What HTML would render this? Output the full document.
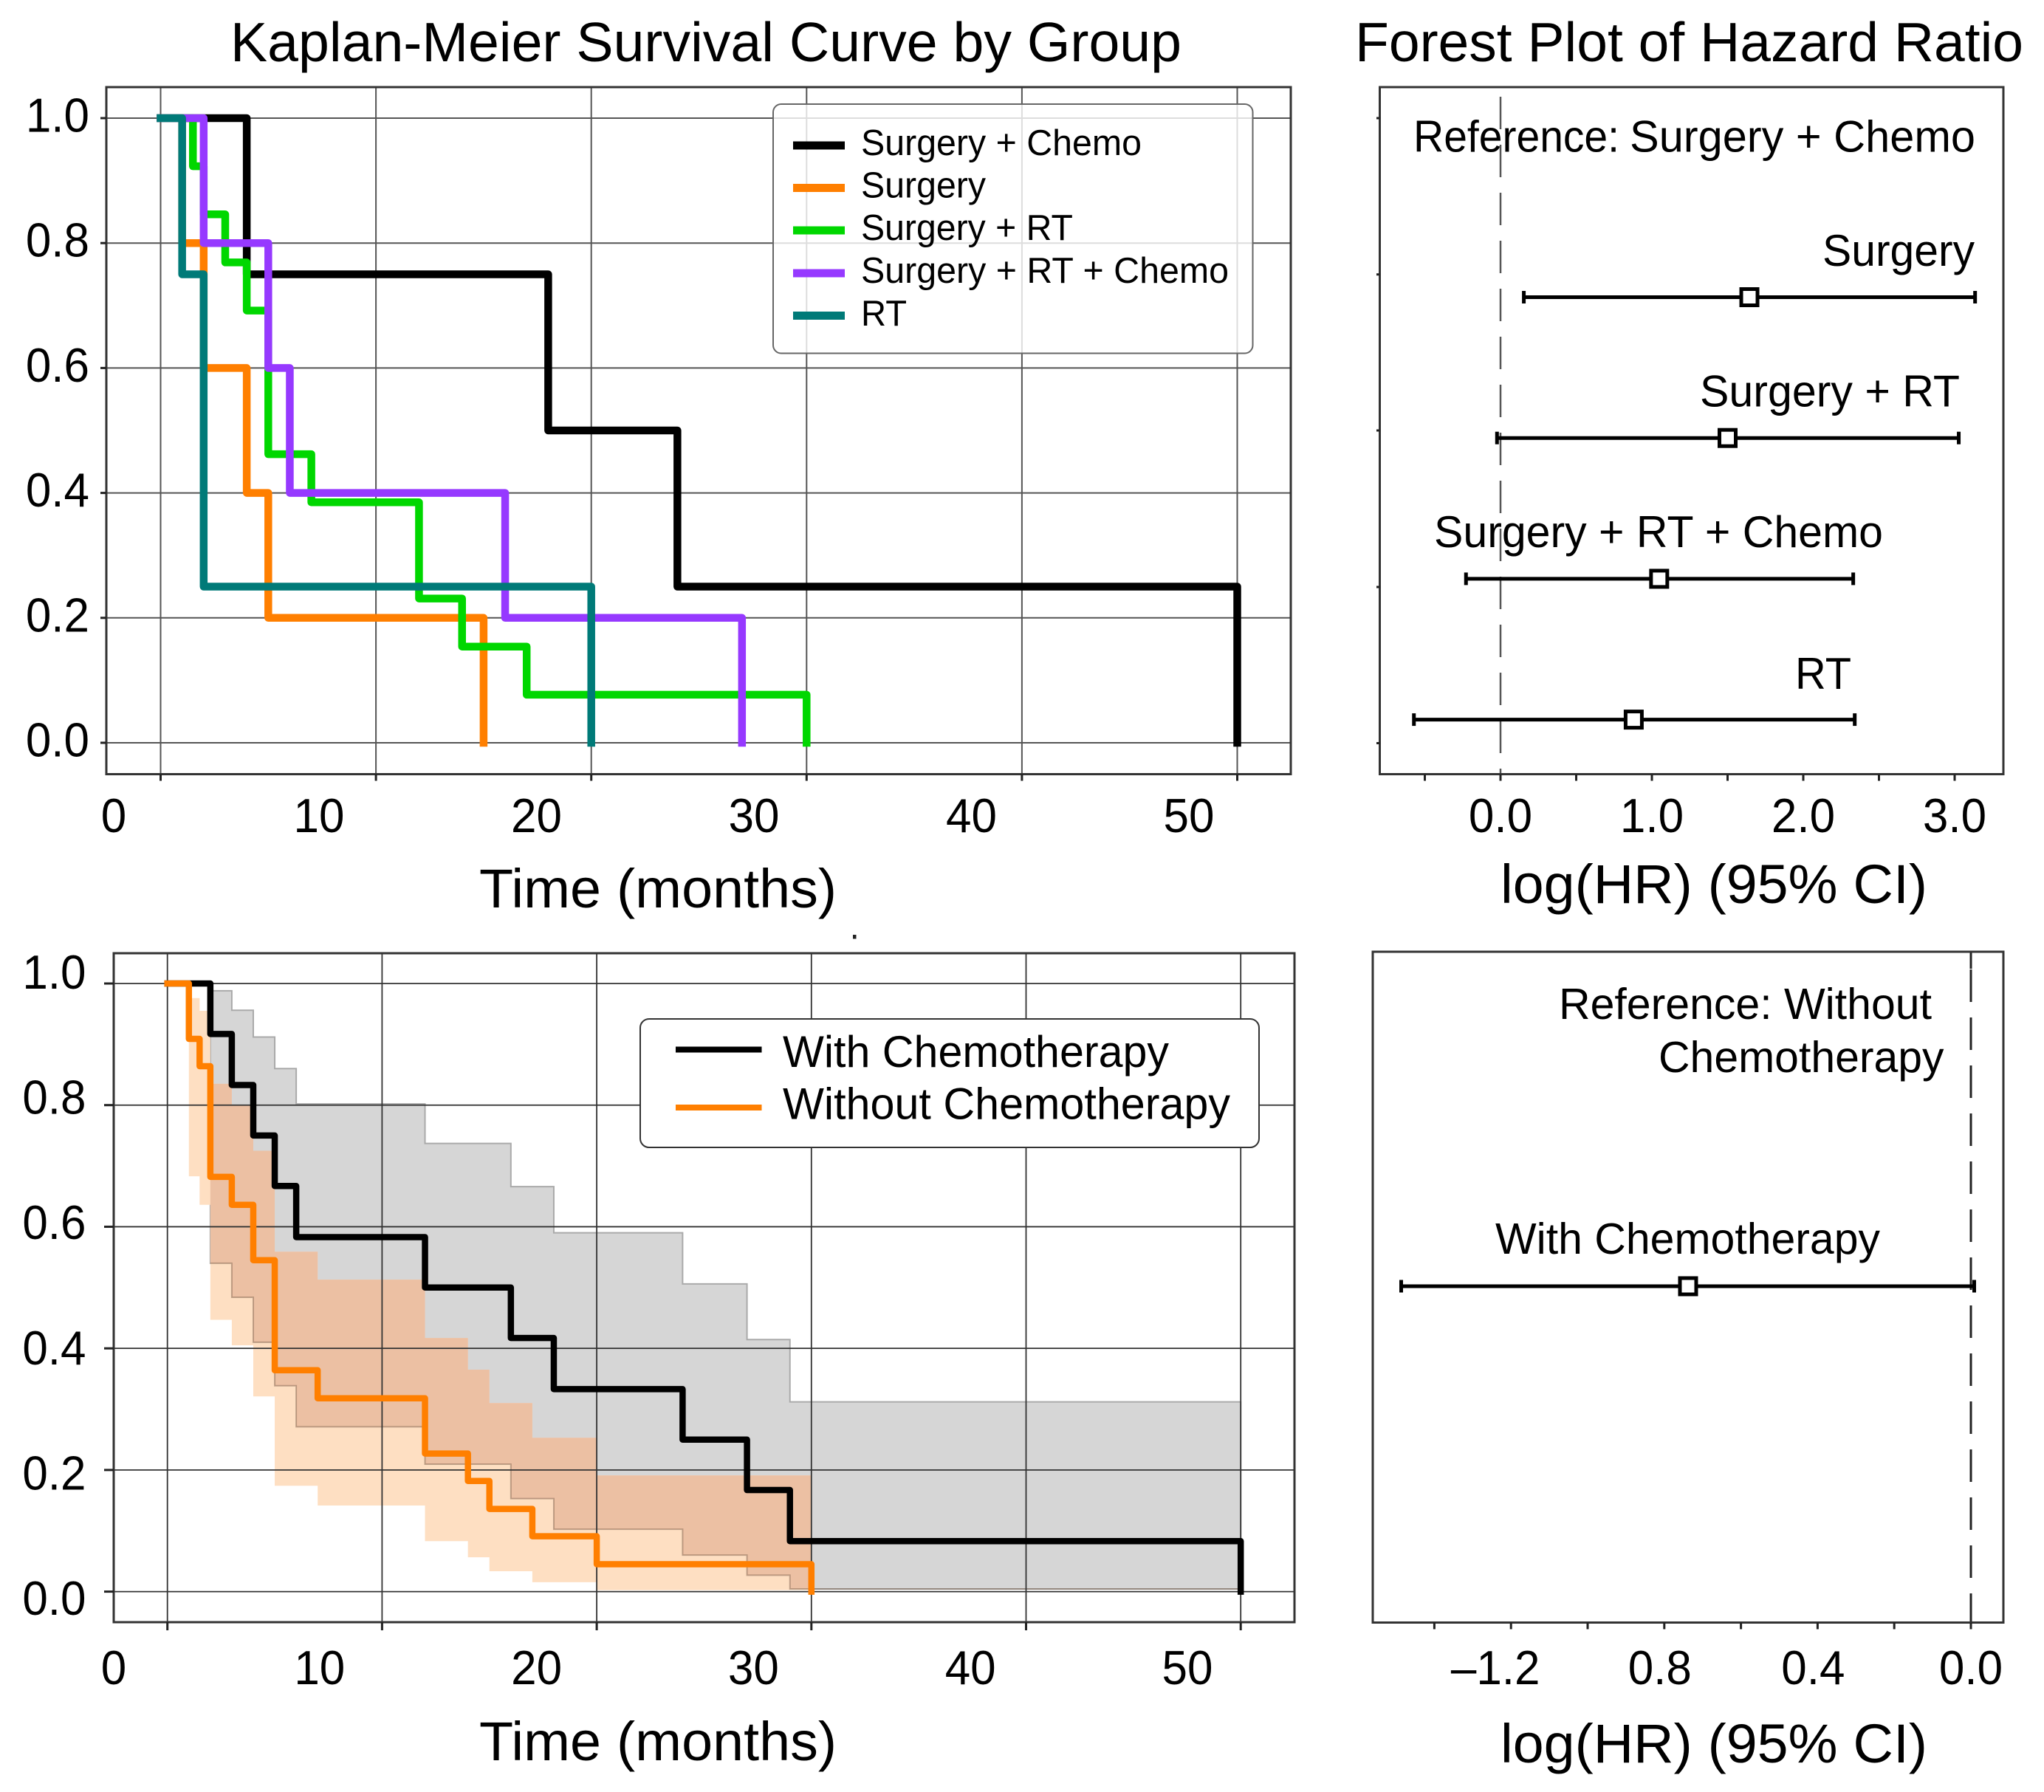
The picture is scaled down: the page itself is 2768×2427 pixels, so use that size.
<!DOCTYPE html>
<html lang="en">
<head>
<meta charset="utf-8">
<title>Kaplan-Meier Survival Curves and Forest Plots</title>
<style>
html,body{margin:0;padding:0;background:#fff}
svg{display:block}
text{font-family:"Liberation Sans",sans-serif;fill:#000}
</style>
</head>
<body>
<svg id="figure" xmlns="http://www.w3.org/2000/svg" width="2768" height="2427" viewBox="0 0 2768 2427">
  <rect width="2768" height="2427" fill="#fff"/>
  <defs><clipPath id="km-gray-clip"><path id="km-gray-clip-path"/></clipPath></defs>

  <g id="panel-a">
    <g id="a-grid"></g>
    <g id="a-curves"></g>
    <rect x="144" y="118" width="1604" height="930.5" fill="none" stroke="#333" stroke-width="3"/>
    <g id="a-ticks"></g>
    <text x="312" y="83" font-size="75" textLength="1288" lengthAdjust="spacingAndGlyphs">Kaplan-Meier Survival Curve by Group</text>
    <text x="649" y="1229" font-size="74" textLength="484" lengthAdjust="spacingAndGlyphs">Time (months)</text>
    <g>
      <rect x="1047" y="141" width="649.5" height="337.5" rx="11" fill="#fff" fill-opacity="0.8" stroke="#666" stroke-width="2"/>
      <rect x="1074" y="191.5" width="70" height="11" fill="#000"/>
      <rect x="1074" y="249" width="70" height="11" fill="#ff7f00"/>
      <rect x="1074" y="306.5" width="70" height="11" fill="#00d700"/>
      <rect x="1074" y="364.5" width="70" height="11" fill="#9639ff"/>
      <rect x="1074" y="422" width="70" height="11" fill="#007a78"/>
      <text x="1166" y="210" font-size="49" textLength="380" lengthAdjust="spacingAndGlyphs">Surgery + Chemo</text>
      <text x="1166" y="267.5" font-size="49" textLength="169" lengthAdjust="spacingAndGlyphs">Surgery</text>
      <text x="1166" y="325" font-size="49" textLength="287" lengthAdjust="spacingAndGlyphs">Surgery + RT</text>
      <text x="1166" y="383" font-size="49" textLength="498" lengthAdjust="spacingAndGlyphs">Surgery + RT + Chemo</text>
      <text x="1166" y="441" font-size="49" textLength="62" lengthAdjust="spacingAndGlyphs">RT</text>
    </g>
  </g>

  <g id="panel-b">
    <line x1="2032" y1="118" x2="2032" y2="1048.5" stroke="#555" stroke-width="2.5" stroke-dasharray="44 21" stroke-dashoffset="52"/>
    <rect x="1868.5" y="118" width="844.5" height="930.5" fill="none" stroke="#333" stroke-width="3"/>
    <g id="b-ticks"></g>
    <g id="b-rows"></g>
    <text x="1835" y="83" font-size="75" textLength="905" lengthAdjust="spacingAndGlyphs">Forest Plot of Hazard Ratio</text>
    <text x="1914" y="205.5" font-size="60" textLength="279" lengthAdjust="spacingAndGlyphs">Reference:</text>
    <text x="2207" y="205.5" font-size="60" textLength="468" lengthAdjust="spacingAndGlyphs">Surgery + Chemo</text>
    <text x="2468" y="360" font-size="60" textLength="206" lengthAdjust="spacingAndGlyphs">Surgery</text>
    <text x="2302" y="550.5" font-size="60" textLength="352" lengthAdjust="spacingAndGlyphs">Surgery + RT</text>
    <text x="1942" y="741" font-size="60" textLength="608" lengthAdjust="spacingAndGlyphs">Surgery + RT + Chemo</text>
    <text x="2431" y="933" font-size="60" textLength="76" lengthAdjust="spacingAndGlyphs">RT</text>
    <text x="2032" y="1223" font-size="74.5" textLength="578" lengthAdjust="spacingAndGlyphs">log(HR) (95% CI)</text>
  </g>

  <rect x="1155" y="1266" width="4.5" height="5.5" fill="#222"/>

  <g id="panel-c">
    <g id="c-bands"></g>
    <g id="c-grid"></g>
    <g id="c-curves"></g>
    <rect x="154" y="1291" width="1599" height="906" fill="none" stroke="#333" stroke-width="3"/>
    <g id="c-ticks"></g>
    <text x="649" y="2384" font-size="74" textLength="484" lengthAdjust="spacingAndGlyphs">Time (months)</text>
    <g>
      <rect x="867" y="1380" width="838" height="174" rx="12" fill="#fff" stroke="#333" stroke-width="2"/>
      <rect x="915" y="1417.5" width="116.5" height="8" fill="#000"/>
      <rect x="915" y="1496" width="116.5" height="8" fill="#ff7f00"/>
      <text x="1060" y="1445" font-size="60" textLength="523" lengthAdjust="spacingAndGlyphs">With Chemotherapy</text>
      <text x="1060" y="1515.5" font-size="60" textLength="606" lengthAdjust="spacingAndGlyphs">Without Chemotherapy</text>
    </g>
  </g>

  <g id="panel-d">
    <line x1="2669" y1="1289" x2="2669" y2="1312" stroke="#222" stroke-width="3"/>
    <line x1="2669" y1="1289" x2="2669" y2="2197.5" stroke="#222" stroke-width="3" stroke-dasharray="44 21" stroke-dashoffset="41"/>
    <rect x="1859" y="1289" width="854" height="908.5" fill="none" stroke="#333" stroke-width="3"/>
    <g id="d-ticks"></g>
    <g id="d-rows"></g>
    <text x="2111" y="1380" font-size="59" textLength="505" lengthAdjust="spacingAndGlyphs">Reference: Without</text>
    <text x="2246" y="1452" font-size="59" textLength="386.5" lengthAdjust="spacingAndGlyphs">Chemotherapy</text>
    <text x="2025" y="1698" font-size="59" textLength="521" lengthAdjust="spacingAndGlyphs">With Chemotherapy</text>
    <text x="2032" y="2387" font-size="74.5" textLength="578" lengthAdjust="spacingAndGlyphs">log(HR) (95% CI)</text>
  </g>
</svg>

<script>
// ---- Panel A data: Kaplan-Meier by treatment group ----
const kmTimeTicks = [0, 10, 20, 30, 40, 50];
const kmSurvTicks = [0.0, 0.2, 0.4, 0.6, 0.8, 1.0];

const surgeryChemoTimes = [4, 18, 24, 50];
const surgeryChemoSurv = [0.75, 0.5, 0.25, 0];

const surgeryTimes = [1, 2, 4, 5, 15];
const surgerySurv = [0.8, 0.6, 0.4, 0.2, 0];

const surgeryRtTimes = [1.5, 2, 3, 4, 5, 7, 12, 14, 17, 30];
const surgeryRtSurv = [0.923, 0.846, 0.769, 0.692, 0.462, 0.385, 0.231, 0.154, 0.077, 0];

const surgeryRtChemoTimes = [2, 5, 6, 16, 27];
const surgeryRtChemoSurv = [0.8, 0.6, 0.4, 0.2, 0];

const rtTimes = [1, 2, 20];
const rtSurv = [0.75, 0.25, 0];

// ---- Panel B data: forest plot by treatment group ----
const forestGroupTicks = [-0.5, 0, 0.5, 1, 1.5, 2, 2.5, 3];
const forestGroupTickLabels = ["", "0.0", "", "1.0", "", "2.0", "", "3.0"];
const forestGroupNames = ["surgery", "surgery-rt", "surgery-rt-chemo", "rt"];
const forestGroupEstimate = [1.644, 1.5, 1.048, 0.88];
const forestGroupLower = [0.154, -0.023, -0.228, -0.572];
const forestGroupUpper = [3.135, 3.027, 2.33, 2.34];

// ---- Panel C data: Kaplan-Meier by chemotherapy ----
const withChemoTimes = [2, 3, 4, 5, 6, 12, 16, 18, 24, 27, 29, 50];
const withChemoSurv = [0.917, 0.833, 0.75, 0.667, 0.583, 0.5, 0.417, 0.333, 0.25, 0.167, 0.083, 0];
const withoutChemoTimes = [1, 1.5, 2, 3, 4, 5, 7, 12, 14, 15, 17, 20, 30];
const withoutChemoSurv = [0.909, 0.864, 0.682, 0.636, 0.545, 0.364, 0.318, 0.227, 0.182, 0.136, 0.091, 0.045, 0];

const withBandTimes = [2, 3, 4, 5, 6, 12, 16, 18, 24, 27, 29, 50];
const withBandUpper = [0.988, 0.956, 0.912, 0.86, 0.802, 0.737, 0.666, 0.59, 0.506, 0.4145, 0.312];
const withBandLower = [0.54, 0.484, 0.41, 0.3385, 0.271, 0.2095, 0.153, 0.1026, 0.06, 0.027, 0.0044];

const withoutBandTimes = [1, 1.5, 2, 3, 4, 5, 7, 12, 14, 15, 17, 20, 30];
const withoutBandUpper = [0.976, 0.955, 0.835, 0.8, 0.725, 0.559, 0.513, 0.417, 0.365, 0.31, 0.253, 0.191];
const withoutBandLower = [0.683, 0.636, 0.447, 0.405, 0.321, 0.174, 0.1415, 0.083, 0.0565, 0.0335, 0.0155, 0.0024];

// ---- Panel D data: forest plot by chemotherapy ----
const forestChemoTicks = [-1.4, -1.2, -1.0, -0.8, -0.6, -0.4, -0.2, 0];
const forestChemoTickLabels = ["", "\u20131.2", "", "0.8", "", "0.4", "", "0.0"];
const forestChemoEstimate = [-0.738];
const forestChemoLower = [-1.4865];
const forestChemoUpper = [0.0087];

// ---- Axis functions ----
const axA = { x: t => 217.5 + 29.16 * t, y: s => 1006 - 846 * s };
const axB = { x: v => 2032 + 205 * v, row: i => 402.5 + 190.7 * i };
const axC = { x: t => 226.7 + 29.07 * t, y: s => 2155.6 - 823.6 * s };
const axD = { x: v => 2669 + 519 * v, row: i => 1742 + 190.7 * i };

const NS = 'http://www.w3.org/2000/svg';
function mk(parentId, tag, attrs, content) {
  const el = document.createElementNS(NS, tag);
  for (const k in attrs) el.setAttribute(k, attrs[k]);
  if (content !== undefined) el.textContent = content;
  document.getElementById(parentId).appendChild(el);
  return el;
}
// Tick labels are drawn taller than natural Liberation proportions, as in the reference
function tickTextWidth(str) {
  let em = 0;
  for (const ch of str) em += ch === '.' ? 0.278 : 0.556;
  return em * 62;
}
function stepPath(ax, times, surv) {
  let d = 'M' + ax.x(0) + ' ' + ax.y(1);
  times.forEach((t, i) => {
    d += ' H' + ax.x(t) + ' V' + ax.y(surv[i]);
  });
  return d;
}
function bandPath(ax, times, upper, lower) {
  let d = 'M' + ax.x(times[0]) + ' ' + ax.y(upper[0]);
  upper.forEach((u, i) => {
    d += ' V' + ax.y(u) + ' H' + ax.x(times[i + 1]);
  });
  for (let i = lower.length - 1; i >= 0; i--) {
    d += ' V' + ax.y(lower[i]) + ' H' + ax.x(times[i]);
  }
  return d + ' Z';
}
function bandEdge(ax, times, vals) {
  let d = 'M' + ax.x(times[0]) + ' ' + ax.y(vals[0]);
  vals.forEach((u, i) => {
    d += ' V' + ax.y(u) + ' H' + ax.x(times[i + 1]);
  });
  return d;
}

function drawKmAxes(prefix, ax, left, right, top, bottom, xLabel, yBase, yLabelEnd, xBase, yTickLen, xTickLen, gridColor, gridWidth) {
  kmTimeTicks.forEach(t => {
    const g = mk(prefix + '-grid', 'line', { x1: ax.x(t), x2: ax.x(t), y1: top, y2: bottom, stroke: gridColor, 'stroke-width': gridWidth });
    
    
    const k = mk(prefix + '-ticks', 'line', { x1: ax.x(t), x2: ax.x(t), y1: bottom, y2: bottom + xTickLen, stroke: '#222', 'stroke-width': 3 });
    
    
    const l = mk(prefix + '-ticks', 'text', { x: xLabel(t), y: xBase, 'font-size': 65, 'text-anchor': 'middle', textLength: tickTextWidth(String(t)), lengthAdjust: 'spacingAndGlyphs' }, String(t));
    
    
  });
  kmSurvTicks.forEach(s => {
    const g = mk(prefix + '-grid', 'line', { x1: left, x2: right, y1: ax.y(s), y2: ax.y(s), stroke: gridColor, 'stroke-width': gridWidth });
    
    
    const k = mk(prefix + '-ticks', 'line', { x1: left - yTickLen, x2: left, y1: ax.y(s), y2: ax.y(s), stroke: '#222', 'stroke-width': 3 });
    
    
    const l = mk(prefix + '-ticks', 'text', { x: yLabelEnd, y: yBase(s), 'font-size': 65, 'text-anchor': 'end', textLength: tickTextWidth(s.toFixed(1)), lengthAdjust: 'spacingAndGlyphs' }, s.toFixed(1));
    
    
  });
}

function drawCurve(parentId, ax, times, surv, color, width, name) {
  const p = mk(parentId, 'path', { d: stepPath(ax, times, surv), fill: 'none', stroke: color, 'stroke-width': width, 'stroke-linejoin': 'round', 'stroke-linecap': 'square' });
  
  
}

function drawForestRow(parentId, ax, i, est, lo, hi, name) {
  const y = ax.row(i);
  const line = mk(parentId, 'line', { x1: ax.x(lo), x2: ax.x(hi), y1: y, y2: y, stroke: '#000', 'stroke-width': 5 });
  
  
  [lo, hi].forEach((v, j) => {
    const cap = mk(parentId, 'line', { x1: ax.x(v), x2: ax.x(v), y1: y - 8.5, y2: y + 8.5, stroke: '#000', 'stroke-width': 5 });
    
    
  });
  const m = mk(parentId, 'rect', { x: ax.x(est) - 11, y: y - 11, width: 22, height: 22, fill: '#fff', stroke: '#000', 'stroke-width': 5 });
  
  
}

function drawForestTicks(parentId, ax, ticks, labels, bottom, base) {
  ticks.forEach((v, i) => {
    const k = mk(parentId, 'line', { x1: ax.x(v), x2: ax.x(v), y1: bottom, y2: bottom + 9, stroke: '#222', 'stroke-width': 3 });
    
    
    if (labels[i]) {
      const shift = labels[i].length > 3 ? -21 : (v === -0.8 || v === -0.4 ? -6 : 0);
      const l = mk(parentId, 'text', { x: ax.x(v) + shift, y: base, 'font-size': 65, 'text-anchor': 'middle', textLength: tickTextWidth(labels[i]), lengthAdjust: 'spacingAndGlyphs' }, labels[i]);
      
      
    }
  });
}

// ---- Panel A ----
drawKmAxes('a', axA, 144, 1748, 118, 1048.5,
  t => t === 0 ? 154 : 137.5 + 29.45 * t,
  s => axA.y(s) + 18.5, 121, 1127, 8, 9, '#555', 2);
drawCurve('a-curves', axA, surgeryChemoTimes, surgeryChemoSurv, '#000', 10.5, 'curve-surgery-chemo');
drawCurve('a-curves', axA, surgeryTimes, surgerySurv, '#ff7f00', 10.5, 'curve-surgery');
drawCurve('a-curves', axA, surgeryRtTimes, surgeryRtSurv, '#00d700', 10.5, 'curve-surgery-rt');
drawCurve('a-curves', axA, surgeryRtChemoTimes, surgeryRtChemoSurv, '#9639ff', 10.5, 'curve-surgery-rt-chemo');
drawCurve('a-curves', axA, rtTimes, rtSurv, '#007a78', 10.5, 'curve-rt');

// ---- Panel B ----
drawForestTicks('b-ticks', axB, forestGroupTicks, forestGroupTickLabels, 1048.5, 1127);
[160, 371.7, 583, 795, 1006.5].forEach((y, i) => {
  const k = mk('b-ticks', 'line', { x1: 1864, x2: 1868.5, y1: y, y2: y, stroke: '#222', 'stroke-width': 3 });
  
  
});
forestGroupNames.forEach((name, i) => {
  drawForestRow('b-rows', axB, i, forestGroupEstimate[i], forestGroupLower[i], forestGroupUpper[i], name);
});

// ---- Panel C ----
const grayD = bandPath(axC, withBandTimes, withBandUpper, withBandLower);
const orangeD = bandPath(axC, withoutBandTimes, withoutBandUpper, withoutBandLower);
document.getElementById('km-gray-clip-path').setAttribute('d', grayD);

const bandGray = mk('c-bands', 'path', { d: grayD, fill: '#d6d6d6', stroke: '#aaa', 'stroke-width': 2 });



const bandOrange = mk('c-bands', 'path', { d: orangeD, fill: '#fedfc2' });



const bandOverlap = mk('c-bands', 'path', { d: orangeD, fill: '#ecc0a3', 'clip-path': 'url(#km-gray-clip)' });



const bandEdgeUpper = mk('c-bands', 'path', { d: bandEdge(axC, withBandTimes, withBandLower), fill: 'none', stroke: 'rgba(120,90,70,0.45)', 'stroke-width': 2 });



drawKmAxes('c', axC, 154, 1753, 1291, 2197,
  t => t === 0 ? 154 : 139 + 29.38 * t,
  s => 2187 - 848 * s, 116.5, 2281, 13, 11, '#333', 1.8);
drawCurve('c-curves', axC, withChemoTimes, withChemoSurv, '#000', 8.5, 'curve-with-chemo');
drawCurve('c-curves', axC, withoutChemoTimes, withoutChemoSurv, '#ff7f00', 8.5, 'curve-without-chemo');

// ---- Panel D ----
drawForestTicks('d-ticks', axD, forestChemoTicks, forestChemoTickLabels, 2197.5, 2281);
forestChemoEstimate.forEach((est, i) => {
  drawForestRow('d-rows', axD, i, est, forestChemoLower[i], forestChemoUpper[i], 'with-chemo');
});
</script>
</body>
</html>
